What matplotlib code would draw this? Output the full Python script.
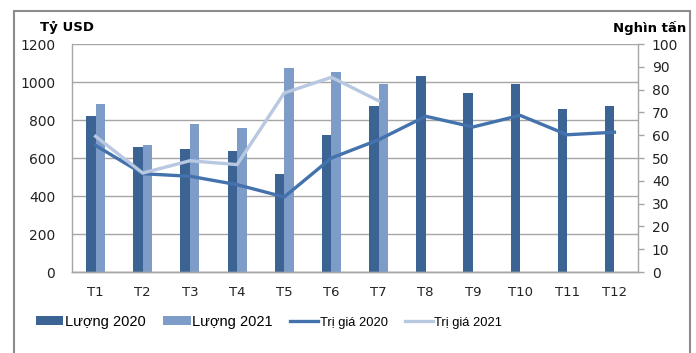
import numpy as np
import matplotlib.pyplot as plt
from matplotlib.patches import Rectangle

months = ["T1", "T2", "T3", "T4", "T5", "T6", "T7", "T8", "T9", "T10", "T11", "T12"]
# bars (left axis)
luong_2020 = [821, 658, 649, 637, 514, 723, 874, 1033, 942, 991, 858, 874]
luong_2021 = [882, 670, 781, 756, 1075, 1054, 991]
# lines (right axis)
tri_gia_2020 = [55.5, 43.1, 42.0, 38.3, 32.9, 50.0, 58.0, 68.3, 63.6, 68.7, 60.2, 61.3]
tri_gia_2021 = [59.5, 43.4, 48.8, 47.1, 78.5, 85.4, 75.1]

c_dark = "#3B6495"
c_light = "#7E9CC8"
c_line20 = "#4472AD"
c_line21 = "#B8C8E0"
c_grid = "#A6A6A6"

fig = plt.figure(figsize=(6.96, 3.53), dpi=100)
ax = fig.add_axes([72 / 696, 81 / 353, 566 / 696, 228 / 353])
ax2 = ax.twinx()

x = np.arange(len(months))
w = 0.2
ax.bar(x[:len(luong_2020)] - w / 2, luong_2020, w, color=c_dark, label="Lượng 2020", zorder=2)
ax.bar(x[:len(luong_2021)] + w / 2, luong_2021, w, color=c_light, label="Lượng 2021", zorder=2)

ax2.plot(x[:len(tri_gia_2020)], tri_gia_2020, color=c_line20, lw=2.4, label="Trị giá 2020")
ax2.plot(x[:len(tri_gia_2021)], tri_gia_2021, color=c_line21, lw=2.4, label="Trị giá 2021")

ax.set_xlim(-0.5, 11.5)
ax.set_ylim(0, 1200)
ax.set_yticks(range(0, 1201, 200))
ax2.set_ylim(0, 100)
ax2.set_yticks(range(0, 101, 10))

ax.yaxis.grid(True, color=c_grid, lw=1, zorder=0)
ax.set_axisbelow(True)
ax.set_xticks(x)
ax.set_xticklabels(months)
ax.tick_params(axis="x", length=0, pad=10, labelsize=9.5, colors="#222222")
ax.tick_params(axis="y", length=0, pad=12, labelsize=10, colors="#222222")
ax2.tick_params(axis="y", length=4, width=1, color=c_grid, pad=6, labelsize=10, labelcolor="#222222")

for a in (ax, ax2):
    a.spines["top"].set_visible(False)
    for s in ("left", "right", "bottom"):
        a.spines[s].set_color(c_grid)
        a.spines[s].set_linewidth(1)
ax.spines["right"].set_visible(False)
ax2.spines["left"].set_visible(False)

fig.text(40 / 696, 1 - 27 / 353, "Tỷ USD", fontsize=9.5, fontweight="bold", va="center", ha="left")
fig.text(686 / 696, 1 - 28 / 353, "Nghìn tấn", fontsize=9.5, fontweight="bold", va="center", ha="right")

h1, l1 = ax.get_legend_handles_labels()
h2, l2 = ax2.get_legend_handles_labels()
leg = fig.legend(h1 + h2, l1 + l2, loc="center", bbox_to_anchor=(269 / 696, 1 - 322 / 353),
                 ncol=4, frameon=False, handlelength=1.9, handleheight=0.6,
                 handletextpad=0.1, columnspacing=1.2,
                 prop={"family": "Liberation Sans", "size": 10.5})
for t, fs in zip(leg.get_texts(), [10.5, 10.5, 9.3, 9.3]):
    t.set_fontsize(fs)

fig.patches.append(Rectangle((14 / 696, -0.05), 676 / 696, 1 - 11 / 353 + 0.05,
                             transform=fig.transFigure, fill=False, edgecolor="#8C8C8C",
                             lw=1.5))

fig.savefig("out.png", dpi=100)
